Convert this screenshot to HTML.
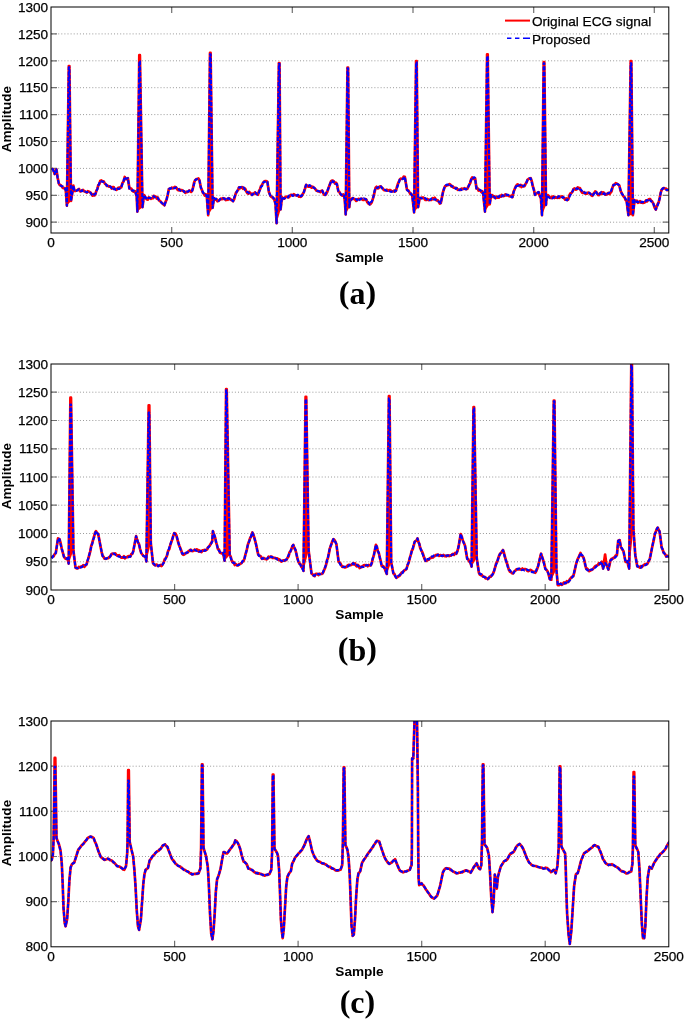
<!DOCTYPE html><html><head><meta charset="utf-8"><style>html,body{margin:0;padding:0;background:#fff;width:685px;height:1019px;overflow:hidden}svg{display:block;will-change:transform}text{font-family:"Liberation Sans",sans-serif;fill:#000}.t{font-size:13.6px;stroke:#000;stroke-width:0.25px}.b{font-size:13.6px;font-weight:bold}.L{font-family:"Liberation Serif",serif;font-size:32px;font-weight:bold}</style></head><body>
<svg width="685" height="1019" viewBox="0 0 685 1019">
<defs>
<clipPath id="ca"><rect x="51" y="7" width="617.8" height="226"/></clipPath>
<clipPath id="cb"><rect x="51" y="364" width="617.8" height="226"/></clipPath>
<clipPath id="cc"><rect x="51" y="721" width="617.8" height="225.8"/></clipPath>
</defs>
<path d="M52 222.2H667.8M52 195.3H667.8M52 168.4H667.8M52 141.5H667.8M52 114.6H667.8M52 87.7H667.8M52 60.8H667.8M52 33.9H667.8" stroke="#9a9a9a" stroke-width="1" stroke-dasharray="1 2.1" fill="none"/>
<path d="M51 222.2h6M668.8 222.2h-6M51 195.3h6M668.8 195.3h-6M51 168.4h6M668.8 168.4h-6M51 141.5h6M668.8 141.5h-6M51 114.6h6M668.8 114.6h-6M51 87.7h6M668.8 87.7h-6M51 60.8h6M668.8 60.8h-6M51 33.9h6M668.8 33.9h-6M171.7 233v-6M171.7 7v6M292.3 233v-6M292.3 7v6M413 233v-6M413 7v6M533.7 233v-6M533.7 7v6M654.3 233v-6M654.3 7v6" stroke="#707070" stroke-width="1.2" fill="none"/>
<g clip-path="url(#ca)" fill="none" stroke-linejoin="round">
<polyline points="51.8,168.8 52.9,169.3 53.8,170.9 54.7,174 56.4,169.3 57.6,177.5 58.8,183.4 59.8,185.2 60.7,185 61.7,186.3 62.7,187.8 63.6,188.2 64.6,188 65.8,190.4 66.9,205.7 68.8,66 69.4,66 71,201 73.4,185.7 74.5,191 75.7,190.8 76.8,190.4 78,189.8 79,188.9 80,191.3 81,191.3 82,190.4 83,189.9 84,191.1 85,191.5 85.9,192.1 86.9,192.6 87.8,191.2 88.8,191.5 89.7,192.1 90.7,192.6 91.6,194.2 92.6,195.6 93.6,194.2 94.5,195.4 95.5,193.9 96.4,190.6 97.4,188.9 98.3,185 99.3,184.2 100.2,181 101.4,180.3 102.6,181.6 103.7,181.4 104.9,183.6 106,184.5 106.9,186 107.9,185.8 108.8,186.6 109.8,186.3 110.7,186.9 111.7,188.6 112.7,187.2 113.7,187.1 114.6,189 115.6,189.3 116.6,189.8 117.5,188.5 118.4,187.7 119.4,188.6 120.3,187.2 121.2,187.4 122.4,183 123.5,181.7 124.7,177 125.8,179.1 127,178.7 127.9,178.2 129.4,188.5 130.4,188.3 131.3,188.7 132.3,190.7 133.3,191.6 134.2,191.1 135.2,191.4 136.7,196.5 137.4,211.6 139.3,55.2 139.9,55.2 142.5,207.2 144,195 145.4,197.2 146.9,199.4 147.9,199.6 148.8,197.3 149.8,198 150.8,198.8 151.8,198.1 152.8,198.3 153.7,195.8 154.7,196.8 155.7,196.5 156.8,198.5 157.8,197.5 158.9,200.3 160,200.9 161.1,202.1 162.2,203.3 163.3,204.3 164.4,205.3 165.5,202.1 166.6,199.4 167.7,195 168.8,189.2 169.8,188.5 170.7,188.5 171.7,187.7 172.8,188.4 173.9,187.8 175,186.9 176.1,187.4 177.2,189.2 178.3,190.3 179.4,189.2 180.5,190.7 181.5,190.1 182.4,190.5 183.4,191.3 184.4,191.4 185.3,192.9 186.3,191.8 187.3,192.1 188.3,191.6 189.2,190.5 190.2,191 191.2,191.9 192.2,190.7 193.1,187.4 194.1,182.6 195,180.4 196.2,179.2 197.3,179 198.4,178.5 199.5,180.4 200.9,187.7 201.9,189.8 202.8,192.7 203.8,193.6 204.8,195.5 205.8,194.3 206.8,196.5 208.2,215.2 210,52.9 210.6,52.9 212.6,207.9 214,198 215.1,199.7 216.2,198.9 217.3,201.3 218.4,200.9 220,199.4 221,198.7 221.9,199.2 222.9,198.2 223.9,198.9 224.8,198.6 225.8,200.1 226.8,199.5 227.8,199.8 228.8,198.2 229.9,198.8 230.9,199.7 232,200.3 233.1,201.2 234.2,199.2 235.3,195 236.2,192.3 237.2,191.1 238.1,190 239,187.4 240,188.4 241,187.3 242.1,187.2 243.1,188.9 244.1,188 245.2,188.9 246.3,191.4 247.3,193.1 248.2,193.7 249.2,191.9 250.2,193.2 251.1,193.6 252.1,195 253.1,193.5 254,193.6 255,192.4 256,193.9 257,193.9 258,194.7 259.1,191 260.1,189.2 261,186.2 262,185 262.9,183.2 263.8,181.9 265,181 266.2,181 267.4,181.9 268.9,192.1 270.4,195.8 271.3,196.7 272.2,197.1 273.1,198.4 274,198.7 275.5,203.8 276.6,223.2 278.9,63.1 279.5,63.1 280.6,209.4 282,197.2 283.1,198.8 284.2,198.7 285.2,197.2 286.1,196.8 287.1,196.6 288.1,197.5 289,197.2 290,195.8 291,194.8 292,194.9 292.9,195.3 293.9,194.2 294.9,195.1 295.9,195.3 296.9,195.5 297.9,195.5 298.9,196.7 299.8,196.2 300.8,196.8 301.8,195.8 302.9,193.7 303.9,192.1 305,188.7 306.1,184.8 307.2,185.7 308.3,186.6 309.4,186.6 310.5,186 311.6,187.7 312.7,186.7 313.8,187.6 314.9,188.5 316.5,190.7 317.5,191 318.4,191.5 319.4,191.4 320.4,192 321.3,190.8 322.3,190.7 323.3,193.3 324.2,194.8 325.2,195 326.2,194 327.1,192.2 328.1,189.2 329.1,186.5 330.1,183.8 331.1,181.2 332.1,180.6 333,180.7 334,181.6 335,183.5 335.9,182.6 336.9,184.1 338.4,191.4 339.4,191.9 340.3,194.1 341.3,195 342.3,195.7 343.2,194.4 344.2,195.8 344.9,201.6 345.7,214.5 347.5,67.5 348.1,67.5 349.3,207.2 350,200.1 351,200.2 352,198.4 353,198 354.1,199.2 355.1,199.4 356.2,200.9 357.3,200.1 358.4,198.9 359.5,199.2 360.6,199.2 361.7,198.7 362.8,199.9 363.9,199.8 365,199.1 366.1,199.4 367.3,202.2 368.5,203.7 369.7,204.5 370.7,203.8 371.7,202.4 372.7,199.4 373.7,196 374.6,192 375.6,187.7 376.6,186.8 377.6,188.4 378.7,188.1 379.7,186.5 380.7,186.3 381.7,187.6 382.6,188.1 383.6,189.9 384.7,190.3 385.8,190.3 386.9,189.7 388,190.7 389.1,190.2 390.2,190 391.3,191 392.4,191.4 393.3,191.3 394.2,190.6 395.1,191.5 396,190.7 396.9,187.2 397.9,183.9 398.8,181.9 399.7,179.7 400.7,178.6 401.6,178.8 402.6,179 403.7,176.7 404.8,176.8 407,189.9 408.2,190.2 409.4,192.1 410.4,194 411.3,193.9 412.3,195.8 414.1,212.3 416.1,61.1 416.7,61.1 418.1,207.2 419.6,198.2 420.7,198.4 421.8,197.5 422.9,197.5 424,198.2 425.1,199.8 426.2,200 427.3,198.9 428.4,200.1 429.5,199.7 430.5,200 431.6,199.8 432.7,198.2 433.7,199 434.7,197.8 435.7,199.4 436.7,200.5 437.7,200.2 438.8,201.7 439.8,203.6 440.8,203.1 443,192.1 444.1,188.5 445.1,186.3 446.2,185.7 447.3,185.3 448.4,184.9 449.5,184.1 450.5,184.9 451.5,186.5 452.6,186.1 453.6,187.7 454.6,187.7 455.6,187.9 456.6,188.1 457.7,189.8 458.7,189.5 459.7,189.9 460.6,190 461.6,188.6 462.5,188.8 463.5,188.9 464.4,188.2 465.4,188.9 466.3,189.2 467.3,188.8 468.2,186.9 469.2,184.8 470.2,183.1 471.2,179.1 472.2,177.5 473.2,178.9 474.1,178.9 475.1,178.2 476.5,188.5 477.5,188.2 478.5,190.6 479.5,189.9 480.4,190.8 481.3,192 482.2,191.2 483.1,192.8 485,211.6 487.1,54.3 487.7,54.3 489.7,204.3 491.1,195 492.2,195 493.3,197 494.4,196.4 495.5,198.2 496.6,196.6 497.7,197.7 498.8,197.7 499.9,195.8 500.8,196.6 501.7,194.9 502.6,195.9 503.5,196.1 504.4,195.8 505.4,194.3 506.3,195.4 507.3,195 508.3,195.4 509.3,196.3 510.4,196 511.4,195.7 512.4,197.2 513.5,191.9 514.6,189.2 515.7,186.5 516.8,185.1 517.7,184.3 518.7,185 519.6,186.1 520.6,184.9 521.5,187 522.5,185.6 523.4,186.3 524.5,186.1 525.5,184.1 526.5,182.6 527.5,179.8 528.5,179 529.6,178.6 530.7,178.2 531.8,181.2 532.8,186.3 533.9,189.5 535,195 535.9,193.9 536.9,193.3 537.8,192.6 538.7,192.1 539.8,196.1 540.9,198 542,215.2 543.7,62.2 544.3,62.2 546,205 546.7,195.8 547.8,195.2 548.9,196 550,197.8 551.1,198 552.2,196.8 553.3,196.4 554.4,198 555.5,197.2 556.5,197.7 557.4,197.8 558.4,196.6 559.4,197.8 560.3,196.7 561.3,196.5 562.3,196.4 563.3,197.8 564.2,198.2 565.2,199.7 566.2,198.4 567.2,200.1 568.3,199.5 569.4,195.2 570.4,193.5 571.5,192.8 572.5,191.7 573.5,189.1 574.5,188.5 575.6,189.6 576.6,189.4 577.7,187.4 578.8,188 579.9,188 581,190.7 582.1,192.6 583.2,192.8 584.2,192.2 585.1,193.6 586.1,193.6 587.1,193.7 588,192.6 589,192.8 590.1,193.7 591.2,195.1 592.3,195.8 593.3,193.9 594.2,193.2 595.2,191.4 596.2,192.1 597.1,193.2 598.1,195 599,195.1 600,193.3 600.9,193.8 601.8,192.1 602.7,193.8 603.6,192.5 604.5,193.5 605.4,194.7 606.4,194.6 607.4,193.7 608.5,192.9 609.5,194.1 610.5,192.8 611.5,191.4 612.5,187.5 613.5,184.8 614.6,184.9 615.7,183.1 616.9,183.7 618.1,184.5 619.3,185.5 620.8,191.4 621.8,193.2 622.7,195.2 623.7,196.5 624.7,197.6 625.6,200 626.6,200.9 628.4,215.2 630.7,61.1 631.3,61.1 632.9,215.2 634.6,200.1 635.7,201.2 636.8,200.6 637.9,202.8 639,202.3 640,201.1 641,202.6 642,202.7 642.9,202.9 643.9,202.7 644.9,202.3 646,200.3 647,201.4 648.1,199.9 649.2,199.1 650.2,199.2 651.2,200.7 652.2,201.6 653.4,203.7 654.6,207.6 655.8,209.6 656.8,206.1 657.7,204 658.7,202.3 659.7,197.8 660.6,193.2 661.6,189.9 662.7,188.6 663.8,188 664.9,188.5 666,188.7 667.1,190.1 668.2,189.9 670,190" stroke="#ff0000" stroke-width="2.7"/>
<polygon points="66.9,205.7 68.8,66 69.4,66 71,201" fill="#ff0000" stroke="none"/>
<polygon points="137.4,211.6 139.3,55.2 139.9,55.2 142.5,207.2" fill="#ff0000" stroke="none"/>
<polygon points="208.2,215.2 210,52.9 210.6,52.9 212.6,207.9" fill="#ff0000" stroke="none"/>
<polygon points="276.6,223.2 278.9,63.1 279.5,63.1 280.6,209.4" fill="#ff0000" stroke="none"/>
<polygon points="345.7,214.5 347.5,67.5 348.1,67.5 349.3,207.2" fill="#ff0000" stroke="none"/>
<polygon points="414.1,212.3 416.1,61.1 416.7,61.1 418.1,207.2" fill="#ff0000" stroke="none"/>
<polygon points="485,211.6 487.1,54.3 487.7,54.3 489.7,204.3" fill="#ff0000" stroke="none"/>
<polygon points="542,215.2 543.7,62.2 544.3,62.2 546,205" fill="#ff0000" stroke="none"/>
<polygon points="628.4,215.2 630.7,61.1 631.3,61.1 632.9,215.2" fill="#ff0000" stroke="none"/>
<polyline points="51.8,168.8 52.9,169.3 53.8,172.4 54.7,174 56.4,169.3 57.6,177.5 58.8,183.4 59.8,185 60.7,185.7 61.7,186.3 62.7,186.4 63.6,187.2 64.6,188 65.8,190.4 66.9,205.7 68.8,67.2 69.4,67.2 71,201 73.4,185.7 74.5,191 75.7,190.9 76.8,190.7 78,189.8 79,189.3 80,189.8 81,191.2 82,190.2 83,191.3 84,191 85,191.5 85.9,191.9 86.9,192.3 87.8,192 88.8,191.8 89.7,192.1 90.7,193 91.6,194.6 92.6,195.6 93.6,195.2 94.5,194.3 95.5,193.9 96.4,191.3 97.4,188.8 98.3,185.8 99.3,183.1 100.2,181 101.4,181.4 102.6,181.6 103.7,181.9 104.9,183.7 106,184.5 106.9,185.5 107.9,186 108.8,185.5 109.8,186.3 110.7,186.9 111.7,188.1 112.7,187.6 113.7,189.1 114.6,188.4 115.6,189.9 116.6,189.8 117.5,188.6 118.4,189.1 119.4,188.8 120.3,188 121.2,187.4 122.4,184.1 123.5,181.1 124.7,177 125.8,178.6 127,178.7 127.9,178.2 129.4,188.5 130.4,188.7 131.3,190 132.3,190.7 133.3,190.2 134.2,191 135.2,191.4 136.7,196.5 137.4,211.6 139.3,61.2 139.9,61.2 142.5,207.2 144,195 145.4,197.2 146.9,199.4 147.9,198.4 148.8,197.9 149.8,198 150.8,197.9 151.8,196.8 152.8,196.7 153.7,196.2 154.7,197.3 155.7,196.5 156.8,197.2 157.8,198 158.9,200 160,200.9 161.1,202.3 162.2,203.3 163.3,204.3 164.4,205.3 165.5,202.4 166.6,199.4 167.7,194.7 168.8,189.2 169.8,188.4 170.7,188.7 171.7,187.7 172.8,187.9 173.9,188.1 175,188.1 176.1,187.4 177.2,188.8 178.3,189.1 179.4,189.9 180.5,190.7 181.5,191.3 182.4,191.2 183.4,190.5 184.4,192.1 185.3,191.1 186.3,191.8 187.3,191.6 188.3,191.4 189.2,190.6 190.2,191.2 191.2,191 192.2,190.7 193.1,187.8 194.1,184 195,180.4 196.2,179.4 197.3,179 198.4,179.8 199.5,180.4 200.9,187.7 201.9,190.4 202.8,191.9 203.8,193.6 204.8,195.1 205.8,194.8 206.8,196.5 208.2,215.2 210,54.2 210.6,54.2 212.6,207.9 214,198 215.1,199 216.2,199 217.3,199.6 218.4,200.9 220,199.4 221,198.7 221.9,198.1 222.9,198.2 223.9,198.2 224.8,199 225.8,200.1 226.8,199 227.8,198.4 228.8,198.2 229.9,199.4 230.9,199 232,200 233.1,201.2 234.2,197.4 235.3,195 236.2,193.1 237.2,190.8 238.1,189.3 239,187.4 240,187.1 241,187.2 242.1,187.7 243.1,187.2 244.1,188 245.2,190.3 246.3,191.4 247.3,192.1 248.2,192.4 249.2,193.3 250.2,194.5 251.1,194.4 252.1,195 253.1,194 254,192.8 255,192.4 256,193 257,194.4 258,194.7 259.1,192.1 260.1,189.2 261,187 262,186.2 262.9,183.1 263.8,181.9 265,181.7 266.2,182.3 267.4,181.9 268.9,192.1 270.4,195.8 271.3,197.2 272.2,197.2 273.1,197.2 274,198.7 275.5,203.8 276.6,223.2 278.9,63.7 279.5,63.7 280.6,209.4 282,197.2 283.1,198 284.2,198.7 285.2,198.1 286.1,197 287.1,197 288.1,197.4 289,195.5 290,195.8 291,195.2 292,195.1 292.9,196 293.9,195.2 294.9,195.7 295.9,195.3 296.9,195.7 297.9,194.7 298.9,195.5 299.8,195 300.8,196.2 301.8,195.8 302.9,193.9 303.9,192.1 305,188.2 306.1,184.8 307.2,185.6 308.3,185.9 309.4,185 310.5,186 311.6,186 312.7,187 313.8,187.6 314.9,188.5 316.5,190.7 317.5,190.8 318.4,191.1 319.4,191.4 320.4,191.9 321.3,191.2 322.3,190.7 323.3,192.9 324.2,193.8 325.2,195 326.2,192.6 327.1,191.2 328.1,189.2 329.1,186 330.1,184 331.1,181.2 332.1,180.8 333,182.2 334,181.6 335,182.1 335.9,183.9 336.9,184.1 338.4,191.4 339.4,192.2 340.3,193.3 341.3,195 342.3,194.9 343.2,196.1 344.2,195.8 344.9,201.6 345.7,214.5 347.5,68.2 348.1,68.2 349.3,207.2 350,200.1 351,199.9 352,199.1 353,198 354.1,198.6 355.1,198.5 356.2,199.2 357.3,200.1 358.4,199 359.5,200.1 360.6,198.5 361.7,198.7 362.8,199.2 363.9,198.3 365,198.9 366.1,199.4 367.3,201.3 368.5,202.3 369.7,204.5 370.7,202.1 371.7,201.7 372.7,199.4 373.7,195.2 374.6,190.8 375.6,187.7 376.6,187.7 377.6,187.9 378.7,186.9 379.7,185.8 380.7,186.3 381.7,187.4 382.6,188.9 383.6,189.9 384.7,189.7 385.8,190.2 386.9,190.9 388,190.7 389.1,191.1 390.2,191.6 391.3,191.9 392.4,191.4 393.3,191.3 394.2,191.8 395.1,190.3 396,190.7 396.9,188 397.9,185.5 398.8,183.1 399.7,179.7 400.7,179.4 401.6,179.1 402.6,179 403.7,178.5 404.8,176.8 407,189.9 408.2,191 409.4,192.1 410.4,192.6 411.3,194.5 412.3,195.8 414.1,212.3 416.1,62.2 416.7,62.2 418.1,207.2 419.6,198.2 420.7,197.8 421.8,198.4 422.9,198.7 424,198.2 425.1,198 426.2,198.9 427.3,200.3 428.4,200.1 429.5,200.1 430.5,199.6 431.6,198.5 432.7,198.2 433.7,199.3 434.7,199.6 435.7,199.4 436.7,200.7 437.7,200.9 438.8,201.8 439.8,201.8 440.8,203.1 443,192.1 444.1,188.5 445.1,186.3 446.2,185 447.3,184.5 448.4,184.7 449.5,184.1 450.5,185.5 451.5,185.7 452.6,186.7 453.6,187.4 454.6,187.7 455.6,188.9 456.6,188.2 457.7,189 458.7,190.1 459.7,189.9 460.6,189.5 461.6,190 462.5,189.5 463.5,188.9 464.4,188.9 465.4,189.1 466.3,189.2 467.3,187 468.2,186.9 469.2,184.8 470.2,182.1 471.2,179.5 472.2,177.5 473.2,178.2 474.1,177.2 475.1,178.2 476.5,188.5 477.5,189.4 478.5,189.4 479.5,189.9 480.4,190 481.3,191.2 482.2,192.9 483.1,192.8 485,211.6 487.1,56.2 487.7,56.2 489.7,204.3 491.1,195 492.2,195.1 493.3,196.3 494.4,196.9 495.5,198.2 496.6,197.7 497.7,196.5 498.8,197 499.9,195.8 500.8,195.6 501.7,196.5 502.6,195.2 503.5,195.4 504.4,195.8 505.4,194.8 506.3,194.5 507.3,195 508.3,194.9 509.3,196 510.4,196.4 511.4,197.1 512.4,197.2 513.5,192.8 514.6,189.2 515.7,187.3 516.8,185.1 517.7,186 518.7,185.2 519.6,185.2 520.6,185.3 521.5,186.7 522.5,186.3 523.4,186.3 524.5,185.2 525.5,184.1 526.5,182.4 527.5,180 528.5,179 529.6,178.2 530.7,178.2 531.8,182.6 532.8,186.3 533.9,190.3 535,195 535.9,194.3 536.9,194.2 537.8,192.3 538.7,192.1 539.8,195 540.9,198 542,215.2 543.7,63.2 544.3,63.2 546,205 546.7,195.8 547.8,196.8 548.9,197.3 550,198 551.1,198 552.2,198.5 553.3,197.7 554.4,197 555.5,197.2 556.5,197.1 557.4,197.6 558.4,196.4 559.4,196.4 560.3,196.1 561.3,196.5 562.3,197.7 563.3,197.1 564.2,197.7 565.2,199.1 566.2,199.9 567.2,200.1 568.3,198.2 569.4,196.8 570.4,195 571.5,192.8 572.5,191.2 573.5,189.3 574.5,188.5 575.6,188.7 576.6,188.4 577.7,188.9 578.8,188 579.9,189.5 581,189.7 582.1,191.1 583.2,192.8 584.2,192.5 585.1,193.2 586.1,192.5 587.1,192.4 588,192.3 589,192.8 590.1,193.4 591.2,194.8 592.3,195.8 593.3,194.7 594.2,193.4 595.2,191.4 596.2,192 597.1,193.9 598.1,195 599,195 600,193.4 600.9,192.2 601.8,192.1 602.7,193 603.6,193.9 604.5,193.3 605.4,194.7 606.4,193.7 607.4,193.6 608.5,193.3 609.5,192.6 610.5,192.8 611.5,189.5 612.5,187.3 613.5,184.8 614.6,184.7 615.7,183.1 616.9,184 618.1,184.3 619.3,185.5 620.8,191.4 621.8,193.8 622.7,194.5 623.7,196.5 624.7,197.4 625.6,198.8 626.6,200.9 628.4,215.2 630.7,63.2 631.3,63.2 632.9,215.2 634.6,200.1 635.7,199.9 636.8,201.9 637.9,201.8 639,202.3 640,203.1 641,202.4 642,201.6 642.9,202.1 643.9,202.1 644.9,202.3 646,201 647,200 648.1,200.2 649.2,199.1 650.2,200.5 651.2,201.5 652.2,201.6 653.4,203.8 654.6,207.1 655.8,209.6 656.8,206.8 657.7,205.3 658.7,202.3 659.7,198.8 660.6,193.3 661.6,189.9 662.7,188.5 663.8,188 664.9,189.1 666,189.7 667.1,190 668.2,189.9 670,190" stroke="#0000ff" stroke-width="2.1" stroke-dasharray="4 1.5"/>
</g>
<rect x="51" y="7" width="617.8" height="226" fill="none" stroke="#000" stroke-width="1"/>
<text class="t" x="48.2" y="226.9" text-anchor="end">900</text>
<text class="t" x="48.2" y="200" text-anchor="end">950</text>
<text class="t" x="48.2" y="173.1" text-anchor="end">1000</text>
<text class="t" x="48.2" y="146.2" text-anchor="end">1050</text>
<text class="t" x="48.2" y="119.3" text-anchor="end">1100</text>
<text class="t" x="48.2" y="92.4" text-anchor="end">1150</text>
<text class="t" x="48.2" y="65.5" text-anchor="end">1200</text>
<text class="t" x="48.2" y="38.6" text-anchor="end">1250</text>
<text class="t" x="48.2" y="11.7" text-anchor="end">1300</text>
<text class="t" x="51" y="246.6" text-anchor="middle">0</text>
<text class="t" x="171.7" y="246.6" text-anchor="middle">500</text>
<text class="t" x="292.3" y="246.6" text-anchor="middle">1000</text>
<text class="t" x="413" y="246.6" text-anchor="middle">1500</text>
<text class="t" x="533.7" y="246.6" text-anchor="middle">2000</text>
<text class="t" x="654.3" y="246.6" text-anchor="middle">2500</text>
<text class="b" x="359.5" y="261.6" text-anchor="middle">Sample</text>
<text class="b" transform="translate(11.4 119.1) rotate(-90)" text-anchor="middle">Amplitude</text>
<text class="L" x="357.4" y="304" text-anchor="middle"><tspan dy="-1.3">(</tspan><tspan dy="1.3">a</tspan><tspan dy="-1.3">)</tspan></text>
<path d="M52 561.8H667.8M52 533.5H667.8M52 505.2H667.8M52 477H667.8M52 448.8H667.8M52 420.5H667.8M52 392.2H667.8" stroke="#9a9a9a" stroke-width="1" stroke-dasharray="1 2.1" fill="none"/>
<path d="M51 561.8h6M668.8 561.8h-6M51 533.5h6M668.8 533.5h-6M51 505.2h6M668.8 505.2h-6M51 477h6M668.8 477h-6M51 448.8h6M668.8 448.8h-6M51 420.5h6M668.8 420.5h-6M51 392.2h6M668.8 392.2h-6M174.6 590v-6M174.6 364v6M298.1 590v-6M298.1 364v6M421.7 590v-6M421.7 364v6M545.2 590v-6M545.2 364v6" stroke="#707070" stroke-width="1.2" fill="none"/>
<g clip-path="url(#cb)" fill="none" stroke-linejoin="round">
<polyline points="51.5,558.1 52.6,556.5 53.6,556.3 54.7,554 55.8,553 58,538.4 59.5,539.1 60.6,542.9 61.7,548.6 62.8,552.5 63.9,556.6 65,558.2 66.1,558.8 67.5,558.1 68.7,563.6 70.4,397.7 71,397.7 73.4,550.5 75.5,567.6 76.6,568.3 77.7,568.3 78.8,567 79.9,567.5 81,566.5 82.1,566.8 83.2,565.2 84.3,566.8 85.4,565.6 86.5,564.6 87.5,560.9 88.4,558.4 89.4,554.4 90.3,551.4 91.2,546 92.2,543.2 93.1,539.8 94.1,536.5 95,533 96,531.1 97.1,533.1 98.2,534 100.4,545.7 101.5,551.6 102.6,555.9 103.6,556.8 104.5,558.6 105.5,558.8 106.5,558.7 107.4,558.1 108.4,558.1 109.4,557 110.3,556.3 111.3,554.4 112.3,553.7 113.2,554 114.2,553.7 115.2,553.4 116.2,554.8 117.2,555.6 118.1,555.4 119.1,555.2 120.1,556.6 121.1,557.6 122,557.4 123,557.7 124,556.3 124.9,558.3 125.9,557.3 127,557.1 128.1,556.2 129.2,556.3 130.3,556.6 131.3,554 132.2,553.9 133.2,551.5 136.1,536.2 137.1,539.8 138,542.4 139,544.2 140.1,549.1 141.2,553 142.3,554.5 143.4,555.9 144.5,556.3 145.6,557.3 146.4,561.4 148.7,405.3 149.3,405.3 150.8,543.2 153,563.2 154.1,564.7 155.2,565.4 156.2,564.6 157.1,564.9 158.1,566.1 159.2,565.8 160.3,565 161.4,566.1 162.5,564.6 163.6,562.8 164.7,559.2 165.8,558.3 166.9,555.9 168.1,551 169.3,549.1 170.5,544.2 171.4,541.9 172.3,539.3 173.3,535.6 174.2,533.2 175.3,533.3 176.4,535.4 177.4,539.3 178.3,542.7 179.3,545.7 180.3,548 181.2,550.4 182.2,553.7 183.3,554.8 184.4,554.4 185.5,553.1 186.6,553 187.7,552.6 188.8,550.8 189.8,551 190.7,549.6 191.7,551 192.7,551.1 193.6,550.7 194.6,549.7 195.6,550.4 196.6,549.4 197.6,549.7 198.5,551.5 199.5,550.4 200.5,551.5 201.5,552.1 202.4,550.4 203.4,550.7 204.4,549.9 205.3,550.6 206.3,550 207.3,549.2 208.2,547.1 209.2,546.4 210.2,544.7 211.2,543 212.2,541.3 212.9,531.1 214,534.7 215.1,537.6 216.1,542.4 217,545.2 218,549.3 219,549.5 219.9,552.7 220.9,553 222,553.5 223.1,553 224.6,560.7 226.1,389.2 226.7,389.2 229.7,554.9 230.7,556.7 231.6,560.3 232.6,562.4 233.7,562.2 234.8,565 235.9,564.1 237,565.4 238.1,565.4 239.2,564 240.3,564 241.4,563.2 242.4,561.8 243.4,561.3 244.4,558.8 245.6,553.9 246.8,549.8 248,544.2 249.1,541.3 250.2,538 251.3,536.1 252.4,532.5 253.4,534.6 254.3,537.7 255.3,541.3 256.3,545.3 257.2,550.1 258.2,554.4 259.1,555.7 260,555.9 261,556.6 261.9,558.8 262.8,558.7 263.7,557.9 264.6,558.9 265.5,558.8 266.5,559.4 267.6,558.6 268.6,556.6 269.7,557.3 270.7,556.6 271.7,556.6 272.6,558 273.6,557.9 274.6,557.8 275.5,558 276.5,558.8 277.5,558.4 278.4,559.8 279.4,559.3 280.4,560.6 281.3,561.6 282.3,561 283.4,560.3 284.5,560.6 285.6,560.3 286.7,559.5 287.6,557.6 288.5,556.6 289.5,552.4 290.4,551.5 291.4,549.2 292.3,546.3 293.3,544.9 294.4,548.2 295.5,550 296.5,554.3 297.4,558.4 298.4,561.7 299.4,563.5 300.3,564 301.3,566.8 302.4,567.9 303.5,570.9 305.6,396.8 306.2,396.8 308.6,550.5 311.5,573.4 312.6,574.3 313.7,575.6 314.6,576.2 315.5,574 316.5,573.8 317.4,574.1 318.4,575 319.4,573.7 320.5,574 321.5,574 322.5,573.4 323.4,572.1 324.3,569.6 325.2,567.7 326.1,564.6 327,560.3 328,557.7 328.9,553.4 329.8,548.6 331,545.2 332.2,541.6 333.4,539.1 334.4,540 335.4,541.7 336.4,544.2 338.6,561.7 339.5,562.6 340.5,563.5 341.4,565.4 342.3,566.8 343.4,566.6 344.5,567.3 345.6,567.3 346.7,566.8 347.6,565.4 348.6,564.8 349.5,565.5 350.4,565.1 351.3,565 352.3,564 353.2,563.2 354.1,564.5 355,563.4 355.9,565.5 356.9,566.4 357.8,564.9 358.7,565.9 359.6,568 360.5,567.6 361.5,566.5 362.6,566.9 363.6,565.3 364.7,565.1 365.7,565.4 366.7,565 367.7,566.2 368.8,564.8 369.8,565.4 370.8,565.4 371.8,563.2 372.7,558.9 373.7,555.9 375.9,544.9 376.9,546.7 377.8,551.3 378.8,553 379.8,557.3 380.7,560.8 381.7,566.1 382.7,565.8 383.6,566.5 384.6,568.3 385.7,571.2 386.8,573.9 388.9,396.2 389.5,396.2 391.2,562.2 393.4,573.4 394.4,574 395.3,576.2 396.3,577.8 397.4,577 398.5,576.3 399.6,575.8 400.7,574.1 401.7,572.5 402.6,572.2 403.6,571.3 404.6,570.1 405.5,569.8 406.5,569 407.6,565.1 408.7,562.5 409.8,558.1 410.9,554.4 411.8,550.7 412.8,549 413.7,545.7 414.6,542 415.6,540.9 416.5,540.5 417.5,538.4 418.4,541.9 419.3,543.8 420.2,547.9 421.1,550 422.2,551.9 423.3,554.8 424.4,558.5 425.5,561 426.6,560.8 427.7,559.9 428.8,559.6 429.9,558.1 430.9,558 431.9,557 432.9,557.6 433.8,556.6 434.8,556 435.8,555.1 436.9,554.9 438,554.5 439.1,555.8 440.2,555.1 441.3,555.6 442.4,556.1 443.5,554.9 444.6,556.2 445.5,556.2 446.4,556.3 447.3,555.3 448.2,555.5 449.2,556.1 450.1,555.3 451,555.6 451.9,554.7 453,553.9 454.1,554.9 455.2,552.9 456.3,553.7 457.4,551.1 458.5,547.1 460.7,534 461.8,536.7 462.8,540.5 463.9,542.8 465,545.7 467.2,558.8 468.2,559.1 469.1,561.4 470.1,561.7 471.6,566.6 473.5,407.2 474.1,407.2 476.7,557.8 478.9,572.7 479.8,574.6 480.8,575.2 481.7,574.6 482.6,576.3 483.6,576.7 484.6,576.9 485.7,578.3 486.7,578.1 487.7,579.2 488.7,578.5 489.7,576.5 490.8,576.6 491.8,575.3 492.8,574.1 493.9,571.6 495,567.9 496.1,563.7 497.2,561.7 498.2,558.5 499.1,555.8 500.1,553.7 501.1,553 502,551.4 503,550 504,553 504.9,556.6 505.9,560.3 506.9,563.2 507.8,565.8 508.8,569.7 509.9,571.7 511,572.1 512.1,573.2 513.2,573.4 514.3,571.4 515.4,570.7 516.5,569.3 517.6,569 518.6,569.4 519.5,569.1 520.5,569.4 521.5,569.6 522.4,568.5 523.4,569.7 524.4,569 525.4,569 526.4,569.7 527.4,570.9 528.4,571.1 529.4,570.5 530.4,569.8 531.3,570.4 532.3,571.2 533.3,572 534.2,571.7 535.2,572.7 536.2,571.2 537.1,569 538.1,566.1 539.1,561.7 540.1,557.7 541.1,553.7 542.2,557.3 543.2,560.3 544.3,563.9 545.4,569 546.4,569.7 547.4,571 548.4,573.4 549.8,579.2 551.3,579.7 553.8,400.6 554.4,400.6 556.4,569.5 557.8,585.1 558.8,585.2 559.9,584.8 560.9,583.5 562,584.8 563,583.6 564,582.4 564.9,583.4 565.9,583.1 566.9,581.2 567.8,582.1 568.8,581.4 569.9,579.1 571,577.8 572.1,576.8 573.2,576.3 574.4,572.2 575.6,566.1 576.8,561.7 577.7,559.2 578.6,557.3 579.6,555.2 580.5,553 581.5,555.1 582.4,556.2 583.4,557.3 584.4,560.4 585.3,565.5 586.3,569 587.3,568.7 588.2,569.9 589.2,571.2 590.3,570.5 591.4,570 592.5,569.3 593.6,568.3 594.7,566.8 595.8,565.8 596.8,565.5 597.9,565 598.9,563.2 599.8,564.1 600.8,563.2 601.8,561.8 603.1,568.6 605.1,554.5 606.4,564.7 607.4,566.5 608.4,569.6 609.4,565.5 610.4,560.4 611.4,558.9 612.3,559.1 613.3,557.9 614.3,557.8 615.6,555.6 616.9,555.2 618.2,540.7 619.6,540.1 620.9,547.3 622.2,549.2 623.5,551.2 625.5,561.8 626.5,561.4 627.4,561.1 628.3,565.7 629.2,568.6 631.3,363.2 631.9,363.2 633.4,529.2 635.3,555.2 637.3,566.4 638.2,566.3 639.1,567.1 640,567.7 641,566.2 642,567 642.9,565.8 643.9,565 645.2,564.2 646.5,564.4 647.6,563.4 648.7,561.1 649.8,559.1 652.4,546 653.7,540.4 655,533.5 655.9,531.6 656.8,528.9 657.7,527.6 658.7,530.1 659.6,531.5 661.6,547.3 662.6,549.3 663.6,552.6 664.9,553.7 666.2,556.5 667.2,555.7 668.2,556.5 670,557" stroke="#ff0000" stroke-width="2.7"/>
<polygon points="68.7,563.6 70.4,397.7 71,397.7 73.4,550.5" fill="#ff0000" stroke="none"/>
<polygon points="146.4,561.4 148.7,405.3 149.3,405.3 150.8,543.2" fill="#ff0000" stroke="none"/>
<polygon points="224.6,560.7 226.1,389.2 226.7,389.2 229.7,554.9" fill="#ff0000" stroke="none"/>
<polygon points="303.5,570.9 305.6,396.8 306.2,396.8 308.6,550.5" fill="#ff0000" stroke="none"/>
<polygon points="386.8,573.9 388.9,396.2 389.5,396.2 391.2,562.2" fill="#ff0000" stroke="none"/>
<polygon points="471.6,566.6 473.5,407.2 474.1,407.2 476.7,557.8" fill="#ff0000" stroke="none"/>
<polygon points="551.3,579.7 553.8,400.6 554.4,400.6 556.4,569.5" fill="#ff0000" stroke="none"/>
<polygon points="629.2,568.6 631.3,363.2 631.9,363.2 633.4,529.2" fill="#ff0000" stroke="none"/>
<polyline points="51.5,558.1 52.6,557.4 53.6,555.3 54.7,554.7 55.8,553 58,538.4 59.5,539.1 60.6,544.5 61.7,548.6 62.8,552.3 63.9,556.6 65,558.1 66.1,558.8 67.5,558.1 68.7,563.6 70.4,404.5 71,404.5 73.4,550.5 75.5,567.6 76.6,567.7 77.7,568.3 78.8,567.5 79.9,567.3 81,567.5 82.1,566.8 83.2,565.8 84.3,565.9 85.4,564.9 86.5,564.6 87.5,560.7 88.4,557.7 89.4,554.4 90.3,550.6 91.2,547 92.2,544 93.1,539.8 94.1,537.5 95,533.6 96,531.1 97.1,533.2 98.2,534 100.4,545.7 101.5,551 102.6,555.9 103.6,557.5 104.5,558.3 105.5,558.8 106.5,558.6 107.4,558 108.4,558.1 109.4,557.5 110.3,556.3 111.3,554.4 112.3,554.3 113.2,553.4 114.2,553.7 115.2,554.6 116.2,555 117.2,555.7 118.1,556.3 119.1,556.8 120.1,556.6 121.1,557 122,556.7 123,557 124,557.1 124.9,557.5 125.9,557.3 127,557.3 128.1,557.4 129.2,556.8 130.3,556.6 131.3,555 132.2,553.8 133.2,551.5 136.1,536.2 137.1,539.3 138,542.1 139,544.2 140.1,548.9 141.2,553 142.3,553.9 143.4,555.9 144.5,556.5 145.6,557.3 146.4,561.4 148.7,412.5 149.3,412.5 150.8,543.2 153,563.2 154.1,564 155.2,565.4 156.2,565.3 157.1,565.3 158.1,566.1 159.2,565.2 160.3,565.3 161.4,565.4 162.5,564.6 163.6,562.9 164.7,560.9 165.8,558.2 166.9,555.9 168.1,551.3 169.3,547.7 170.5,544.2 171.4,540.8 172.3,539.2 173.3,535.7 174.2,533.2 175.3,534.6 176.4,535.4 177.4,538.8 178.3,542.4 179.3,545.7 180.3,548.9 181.2,551.3 182.2,553.7 183.3,553.5 184.4,554.4 185.5,553.7 186.6,552.4 187.7,552.4 188.8,550.8 189.8,550.3 190.7,550.1 191.7,550.8 192.7,549.9 193.6,549.3 194.6,549.7 195.6,550.4 196.6,550.9 197.6,550.6 198.5,550.4 199.5,551.7 200.5,551.5 201.5,551 202.4,550.6 203.4,550.1 204.4,551 205.3,549.9 206.3,550 207.3,548.3 208.2,547.4 209.2,546.4 210.2,545 211.2,543.7 212.2,541.3 212.9,531.1 214,533.9 215.1,537.6 216.1,541.7 217,545.1 218,549.3 219,551 219.9,551.7 220.9,553 222,553.3 223.1,553 224.6,560.7 226.1,390.2 226.7,390.2 229.7,554.9 230.7,557.9 231.6,560 232.6,562.4 233.7,563.1 234.8,563.2 235.9,564.2 237,565.4 238.1,565.1 239.2,564.7 240.3,563.9 241.4,563.2 242.4,561.1 243.4,560.6 244.4,558.8 245.6,554.4 246.8,549.6 248,544.2 249.1,541.6 250.2,538.6 251.3,535.2 252.4,532.5 253.4,535.2 254.3,537.9 255.3,541.3 256.3,545.9 257.2,549.8 258.2,554.4 259.1,555.9 260,556.2 261,557.4 261.9,558.8 262.8,558.2 263.7,558.5 264.6,559.2 265.5,558.8 266.5,558.8 267.6,558.5 268.6,556.8 269.7,557.3 270.7,556.6 271.7,557.1 272.6,557.1 273.6,558.3 274.6,558.3 275.5,558.2 276.5,558.8 277.5,559.6 278.4,559.5 279.4,559.9 280.4,560.2 281.3,560.6 282.3,561 283.4,560 284.5,560.7 285.6,559.6 286.7,559.5 287.6,557.4 288.5,555 289.5,553.6 290.4,551.5 291.4,548.7 292.3,546.4 293.3,544.9 294.4,547 295.5,550 296.5,554.4 297.4,558.1 298.4,561.7 299.4,563.7 300.3,564.5 301.3,566.8 302.4,568.8 303.5,570.9 305.6,399.2 306.2,399.2 308.6,550.5 311.5,573.4 312.6,574.8 313.7,575.6 314.6,575.6 315.5,574.8 316.5,573.9 317.4,574.1 318.4,573.8 319.4,574.4 320.5,574.2 321.5,573.7 322.5,573.4 323.4,571 324.3,569.1 325.2,566.9 326.1,564.6 327,560.5 328,557.1 328.9,552.7 329.8,548.6 331,544.9 332.2,542.6 333.4,539.1 334.4,541.1 335.4,541.9 336.4,544.2 338.6,561.7 339.5,563 340.5,564.9 341.4,565.7 342.3,566.8 343.4,567 344.5,566.8 345.6,566.7 346.7,566.8 347.6,567 348.6,565.5 349.5,565.2 350.4,564.2 351.3,564.2 352.3,563.9 353.2,563.2 354.1,564 355,565 355.9,564.5 356.9,565 357.8,565.8 358.7,566.3 359.6,567.6 360.5,567.6 361.5,566.8 362.6,566.7 363.6,567 364.7,565.7 365.7,565.4 366.7,565.3 367.7,565.3 368.8,565.2 369.8,565.1 370.8,565.4 371.8,562.7 372.7,558.4 373.7,555.9 375.9,544.9 376.9,547 377.8,550.7 378.8,553 379.8,557.7 380.7,561.6 381.7,566.1 382.7,566.8 383.6,567.5 384.6,568.3 385.7,570.8 386.8,573.9 388.9,398.2 389.5,398.2 391.2,562.2 393.4,573.4 394.4,574.8 395.3,576.1 396.3,577.8 397.4,577 398.5,575.7 399.6,575.1 400.7,574.1 401.7,572.6 402.6,573.1 403.6,570.9 404.6,570.7 405.5,569.7 406.5,569 407.6,564.8 408.7,562.4 409.8,558 410.9,554.4 411.8,550.9 412.8,548 413.7,544.7 414.6,542 415.6,540.9 416.5,540.3 417.5,538.4 418.4,541.9 419.3,543.8 420.2,547.4 421.1,550 422.2,552.8 423.3,555.9 424.4,557.8 425.5,561 426.6,559.6 427.7,559 428.8,559.4 429.9,558.1 430.9,557 431.9,556.5 432.9,556.5 433.8,555.5 434.8,555.1 435.8,555.1 436.9,555.7 438,554.7 439.1,555.5 440.2,555.1 441.3,555.9 442.4,555.6 443.5,555.8 444.6,556.2 445.5,555.6 446.4,555.6 447.3,555.7 448.2,555.5 449.2,555.3 450.1,554.9 451,555.4 451.9,554.7 453,554.4 454.1,554 455.2,553.9 456.3,553.7 457.4,550.9 458.5,547.1 460.7,534 461.8,537.4 462.8,540.5 463.9,543.4 465,545.7 467.2,558.8 468.2,560.2 469.1,560.5 470.1,561.7 471.6,566.6 473.5,408.2 474.1,408.2 476.7,557.8 478.9,572.7 479.8,573.9 480.8,573.9 481.7,575.4 482.6,576.3 483.6,576.8 484.6,577.3 485.7,577.6 486.7,579 487.7,579.2 488.7,578 489.7,577 490.8,575.6 491.8,575.6 492.8,574.1 493.9,571.5 495,567.5 496.1,564.6 497.2,561.7 498.2,558.7 499.1,555.9 500.1,553.7 501.1,552.9 502,551.4 503,550 504,554 504.9,557.1 505.9,560.3 506.9,563.2 507.8,567 508.8,569.7 509.9,570.1 511,571.7 512.1,572.5 513.2,573.4 514.3,571.7 515.4,570.9 516.5,570.1 517.6,569 518.6,568.6 519.5,568.6 520.5,569.5 521.5,570.1 522.4,569.7 523.4,569.7 524.4,570.5 525.4,569.9 526.4,569.5 527.4,569.8 528.4,570.3 529.4,570.5 530.4,571.4 531.3,571.7 532.3,572.3 533.3,572.1 534.2,572.7 535.2,572.7 536.2,570.6 537.1,567.8 538.1,566.1 539.1,562 540.1,557.5 541.1,553.7 542.2,557.4 543.2,560.3 544.3,565.1 545.4,569 546.4,570.1 547.4,571.4 548.4,573.4 549.8,579.2 551.3,579.7 553.8,401.2 554.4,401.2 556.4,569.5 557.8,585.1 558.8,584.5 559.9,583.8 560.9,583.8 562,584.5 563,583.6 564,583.8 564.9,582.8 565.9,583 566.9,581.7 567.8,582.5 568.8,581.4 569.9,580.2 571,579 572.1,577.3 573.2,576.3 574.4,570.7 575.6,566.6 576.8,561.7 577.7,559.7 578.6,557.6 579.6,555.6 580.5,553 581.5,555 582.4,555.2 583.4,557.3 584.4,561.5 585.3,564.5 586.3,569 587.3,570.2 588.2,570.5 589.2,571.2 590.3,569.8 591.4,569.6 592.5,569.5 593.6,568.3 594.7,568 595.8,567.2 596.8,565.8 597.9,565 598.9,564.5 599.8,563.7 600.8,562.6 601.8,561.8 603.1,568.6 605.1,563 606.4,564.7 607.4,567.5 608.4,569.6 609.4,564.5 610.4,560.4 611.4,559.4 612.3,559.3 613.3,558.8 614.3,557.8 615.6,557.2 616.9,555.2 618.2,540.7 619.6,540.1 620.9,547.3 622.2,548.6 623.5,551.2 625.5,561.8 626.5,562.1 627.4,561.1 628.3,564.6 629.2,568.6 631.3,365.2 631.9,365.2 633.4,529.2 635.3,555.2 637.3,566.4 638.2,566.6 639.1,567.5 640,567.7 641,567.7 642,565.9 642.9,565.5 643.9,565 645.2,565.3 646.5,564.4 647.6,563.1 648.7,560.7 649.8,559.1 652.4,546 653.7,539.4 655,533.5 655.9,532 656.8,529.1 657.7,527.6 658.7,529.4 659.6,531.5 661.6,547.3 662.6,549.3 663.6,552.6 664.9,554.2 666.2,556.5 667.2,556.4 668.2,556.5 670,557" stroke="#0000ff" stroke-width="2.1" stroke-dasharray="4 1.5"/>
</g>
<rect x="51" y="364" width="617.8" height="226" fill="none" stroke="#000" stroke-width="1"/>
<text class="t" x="48.2" y="594.6" text-anchor="end">900</text>
<text class="t" x="48.2" y="566.4" text-anchor="end">950</text>
<text class="t" x="48.2" y="538.1" text-anchor="end">1000</text>
<text class="t" x="48.2" y="509.9" text-anchor="end">1050</text>
<text class="t" x="48.2" y="481.6" text-anchor="end">1100</text>
<text class="t" x="48.2" y="453.4" text-anchor="end">1150</text>
<text class="t" x="48.2" y="425.1" text-anchor="end">1200</text>
<text class="t" x="48.2" y="396.9" text-anchor="end">1250</text>
<text class="t" x="48.2" y="368.6" text-anchor="end">1300</text>
<text class="t" x="51" y="603.8" text-anchor="middle">0</text>
<text class="t" x="174.6" y="603.8" text-anchor="middle">500</text>
<text class="t" x="298.1" y="603.8" text-anchor="middle">1000</text>
<text class="t" x="421.7" y="603.8" text-anchor="middle">1500</text>
<text class="t" x="545.2" y="603.8" text-anchor="middle">2000</text>
<text class="t" x="668.8" y="603.8" text-anchor="middle">2500</text>
<text class="b" x="359.5" y="618.6" text-anchor="middle">Sample</text>
<text class="b" transform="translate(11.4 476.1) rotate(-90)" text-anchor="middle">Amplitude</text>
<text class="L" x="357.4" y="660.6" text-anchor="middle"><tspan dy="-1.3">(</tspan><tspan dy="1.3">b</tspan><tspan dy="-1.3">)</tspan></text>
<path d="M52 901.6H667.8M52 856.5H667.8M52 811.3H667.8M52 766.2H667.8" stroke="#9a9a9a" stroke-width="1" stroke-dasharray="1 2.1" fill="none"/>
<path d="M51 901.6h6M668.8 901.6h-6M51 856.5h6M668.8 856.5h-6M51 811.3h6M668.8 811.3h-6M51 766.2h6M668.8 766.2h-6M174.6 946.8v-6M174.6 721v6M298.1 946.8v-6M298.1 721v6M421.7 946.8v-6M421.7 721v6M545.2 946.8v-6M545.2 721v6" stroke="#707070" stroke-width="1.2" fill="none"/>
<g clip-path="url(#cc)" fill="none" stroke-linejoin="round">
<polyline points="50,861 51.8,859.8 52.9,854.5 53.6,839.3 54.7,757.9 55.3,757.9 56.5,838.1 57.6,840.9 58.8,843.9 59.7,847.1 60.6,850.9 61.8,863.9 62.7,883.9 63.5,907.5 64.7,922.8 65.6,926.3 67.1,919.3 68.3,901.6 69.4,880.4 70.6,867.4 71.8,864.5 73,863.3 74.2,862.7 75.9,857.4 77.1,853.3 78.3,849.7 79.4,848.5 80.6,846.8 81.5,845.5 82.4,844.6 83.3,843.9 84.2,842.7 85.4,841.2 86.5,840 87.7,838 88.7,837.5 89.6,836.9 90.6,836.5 91.6,837.1 92.6,837.2 93.6,838 94.8,841.4 96,843.9 97.2,847.3 98.3,850.9 99.5,853.7 100.7,856.8 101.9,858 103,858.5 104.2,859.8 105.4,859.6 106.5,859.3 107.7,858.6 108.9,859 110.1,860.2 111.3,860.3 112.3,861.1 113.2,862.2 114.2,862.7 115.2,863.8 116.2,864.9 117.2,866.2 118.4,866.4 119.5,866.5 120.7,867.4 121.9,867.9 123,869.5 124.2,869.8 126,866.2 127.2,853.3 127.6,839.3 128.2,770.2 128.8,770.2 129.7,841.7 130.6,845.8 131.5,849.7 133.2,856.8 134.4,869.8 135.6,887.4 136.8,911 138,926.3 139.1,929.9 140.9,919.3 142.1,901.6 143.3,883.9 144.4,874.5 145.6,869.8 146.8,868.9 148,868 149.7,860.3 150.9,859 152.1,856.8 153.3,855.5 154.4,854.5 155.6,852.7 156.5,851.9 157.5,851 158.4,851 159.4,849.6 160.3,849.2 161.5,847.7 162.7,845.6 163.9,845.1 165.1,844.4 166.2,846.1 167.4,846.8 168.6,850.5 169.8,853.3 170.9,856.4 172.1,859.2 173.3,860.3 174.5,861.9 175.7,863.9 176.9,864.6 178,865.8 179.2,866.2 180.1,866.5 181.1,867.6 182,867.9 183,868.9 183.9,869.8 184.8,869.8 185.8,870.5 186.7,871.2 187.7,871.3 188.6,872.1 189.8,873.2 191,873.3 192.2,874.5 193.4,874 194.5,873.9 195.7,873.9 196.7,873.6 197.6,873.8 198.6,873.3 199.5,870.8 200.4,868.6 201.1,847.6 201.9,764.4 202.5,764.4 203.5,847.6 204.7,851.8 205.9,855.6 207.7,866.2 208.8,883.9 210,913.4 211.2,933.4 212.4,939.3 213.5,931 214.7,913.4 215.9,891 217.1,879.2 218,877.3 218.9,874.5 220.6,868.6 222.4,858 223.6,852.1 224.8,852.1 225.9,853.3 227.1,853.3 228.3,851.8 229.4,850.4 230.6,848.6 231.8,847.1 233,845.4 234.2,843.9 235.3,840.3 236.5,841.1 237.7,842.7 238.9,845.3 240.1,848.6 241.8,855.6 243.6,861.5 244.6,862 245.5,862.8 246.5,863.9 247.4,865.9 248.3,868.6 249.5,868.7 250.6,869.5 251.8,869.8 253,871 254.2,872 255.4,872.7 256.3,873.3 257.3,872.8 258.2,873.7 259.2,873.3 260.1,873.9 261,873.8 262,874.4 262.9,875.1 263.9,874.9 264.8,875.7 265.7,875.1 266.7,874.9 267.6,874.9 268.6,874.2 269.5,873.9 270.4,871.8 271.3,869.8 272.1,852.3 272.8,774.6 273.4,774.6 274.5,848.7 275.9,850.9 277.2,853.3 277.9,855.6 279.1,869.8 279.9,889.8 280.9,919.3 281.8,931 282.7,938.1 283.8,928.7 285,907.5 286.2,886.3 287.4,876.8 289.1,873.3 290.9,871 292.1,863.9 293.9,860.3 295,857.8 296.2,856.2 297.4,855.1 298.6,853.3 299.8,852.5 300.9,851.1 302.1,849.7 303.3,847.2 304.5,845 305.6,842 306.8,839.1 307.7,837.5 308.6,836.2 310.3,842.7 311.2,847 312.1,850.9 313.3,854 314.5,856.8 315.6,858.4 316.8,860.3 317.9,861.3 318.9,861.7 319.9,861.8 321,862.7 322.2,863.4 323.3,863.7 324.5,863.9 325.7,864.4 326.8,865.2 328,866.2 328.9,866.9 329.9,866.7 330.8,867.6 331.8,868.6 332.7,868.6 333.6,868.8 334.5,869.5 335.4,870.4 336.3,870.4 337.3,870.6 338.4,870.4 339.4,870 340.4,869.8 341.3,867.9 342.2,865.1 342.9,841.7 343.7,767.3 344.3,767.3 345.4,845 346.4,847.1 347.4,849.7 348.5,856.8 349.7,874.5 350.7,901.6 351.5,925.1 352.7,935.8 353.8,934.6 355,919.3 356.2,895.7 357.4,879.2 358.5,873.3 359.4,872.5 360.3,871 361.2,866.8 362.1,862.7 363.9,859.8 365.1,858.2 366.2,856.4 367.4,854.5 368.6,852.7 369.7,851.5 370.9,849.7 371.9,848.2 372.9,847.1 373.9,845 374.9,843.8 375.8,842.2 376.8,840.9 378,841.1 379.2,841.5 380.4,845.4 381.5,848.6 382.7,851.9 383.9,855.6 385,858.1 386.2,860.3 387.2,861.7 388.2,863.2 389.2,863.9 390.2,863 391.1,862.9 392.1,862.1 393.1,860.8 394.1,860.3 395.1,859.2 396.2,862.3 397.4,865.1 398.6,868 399.8,870.4 400.8,871.3 401.7,871.3 402.7,872.1 403.6,872.3 404.5,871.6 405.4,871.5 406.3,871.5 407.5,870.5 408.6,870.4 409.8,869.8 410.7,867 411.6,865.1 411.9,848.6 412.1,758.4 413.3,758.4 414.6,718 415.8,717.8 417,718 417.9,790 418.2,848.6 418.6,878 419.2,885.1 420.4,884.4 421.6,883.3 422.6,884.9 423.7,885.7 424.7,887.4 425.9,889.5 427,890.9 428.2,892.7 429.2,893.8 430.2,895.7 431.2,896.9 432.2,897.7 433.1,898 434.1,898.6 435.1,897.7 436.1,896.8 437.1,895.7 438.1,892.7 439,889.7 440,886.3 441,881.8 442,876.5 443,872.1 444.1,869.9 445.3,868.6 446.4,868.2 447.4,868.4 448.4,868.7 449.5,868.6 450.7,870 451.8,870.5 453,871.5 454,871.8 455.1,872.5 456.1,873.3 457.1,873.3 458.1,873.1 459.1,872.5 460.2,872.7 461.2,872.1 462.3,872.3 463.3,871.7 464.4,871 465.4,870.4 466.5,870.4 467.6,870.9 468.6,871.2 469.6,871.8 470.7,872.7 471.7,870.9 472.6,869.5 473.6,867.4 474.6,866.2 475.6,864.6 476.6,863.3 478.3,867.4 479.2,868.8 480.1,869.2 481.3,865.1 482,841.7 482.8,764.4 483.4,764.4 484.5,844.6 485.9,846 487.2,848 488.9,855.6 490.1,874.5 491.3,898 492.5,912.2 493.6,901.6 494.8,874.5 496,881.6 496.8,888.6 497.9,876.8 498.9,873 499.9,869.5 500.9,866.2 501.9,864.7 502.8,863.5 503.8,861.5 504.8,860.8 505.8,860.7 506.8,859.8 508,858.3 509.1,855.8 510.3,853.9 511.5,853.5 512.7,852.7 513.9,851.5 514.9,849.7 515.8,847.6 516.8,846.2 517.8,845 518.7,844.4 519.7,843.9 520.9,845.3 522.1,846.8 523.3,849 524.5,852.1 525.6,854.9 526.8,858 528,860.3 529.2,862.7 530.4,863.5 531.5,864.9 532.7,865.6 533.9,865.9 535,866 536.2,866.2 537.4,866.7 538.6,867.1 539.8,867.4 541,867.7 542.1,867.9 543.3,868.6 544.5,868.5 545.6,867.7 546.8,868 547.8,868.6 548.9,869.9 550,870.8 551,872.1 552,871.6 552.9,870.2 553.9,869.8 554.8,871.5 555.7,873.3 557.4,866.2 558.7,847.6 559.7,766.4 560.3,766.4 561.4,846.4 562.3,848.4 563.2,849.8 564.2,851.9 565.1,853.3 565.7,866.2 566.3,889.8 567.1,913.4 568.6,934.6 569.8,944 571.3,931 572.8,907.5 574.1,886.3 575.9,874.5 576.8,873.5 577.7,873.3 579.4,867.4 580.3,863.5 581.2,860.3 582.2,857.7 583.1,855.5 584.1,853.3 585,852.8 585.9,851.8 586.8,851.6 587.7,850.9 588.9,850.1 590,849.1 591.2,848 592.4,847.3 593.5,845.6 594.7,845 595.9,845.8 597.1,846.4 598.3,846.8 599.5,849.8 600.6,852.1 601.8,855.3 603,859.2 604.1,860.5 605.3,862.7 606.4,863.8 607.5,864.4 608.6,865.1 609.7,864.5 610.9,864.9 612,864.2 613,865 613.9,865.5 614.9,866.2 615.8,866.6 616.8,867.1 617.7,867.8 618.7,868.3 619.6,869.4 620.6,870.5 621.5,871.2 622.4,871.2 623.4,871.6 624.3,871.9 625.2,872.6 626.2,873.4 627.1,873.3 628.1,873.1 629.2,871.9 630.2,871.8 631.2,871.5 632.4,863.9 632.9,847.6 633.6,772 634.2,772 635.3,845.2 636.3,847.7 637.3,849.4 638.3,852.1 639.5,869.8 640.6,895.7 641.8,922.8 643,938.1 644.2,938.1 645.4,925.1 646.5,898 647.7,878 649.5,866.8 650.6,868 651.8,868.6 653,865.4 654.2,862.7 655.4,860.9 656.5,859.5 657.7,857.4 658.9,856.4 660.1,854.2 661.3,853.3 662.5,852.4 663.6,851.3 664.8,849.7 665.8,848.3 666.7,846.4 667.7,844.4 668.9,842.6 670,841" stroke="#ff0000" stroke-width="2.7"/>
<polygon points="53.6,839.3 54.7,757.9 55.3,757.9 56.5,838.1" fill="#ff0000" stroke="none"/>
<polygon points="127.6,839.3 128.2,770.2 128.8,770.2 129.7,841.7" fill="#ff0000" stroke="none"/>
<polygon points="201.1,847.6 201.9,764.4 202.5,764.4 203.5,847.6" fill="#ff0000" stroke="none"/>
<polygon points="272.1,852.3 272.8,774.6 273.4,774.6 274.5,848.7" fill="#ff0000" stroke="none"/>
<polygon points="342.9,841.7 343.7,767.3 344.3,767.3 345.4,845" fill="#ff0000" stroke="none"/>
<polygon points="482,841.7 482.8,764.4 483.4,764.4 484.5,844.6" fill="#ff0000" stroke="none"/>
<polygon points="558.7,847.6 559.7,766.4 560.3,766.4 561.4,846.4" fill="#ff0000" stroke="none"/>
<polygon points="632.9,847.6 633.6,772 634.2,772 635.3,845.2" fill="#ff0000" stroke="none"/>
<polyline points="50,861 51.8,859.8 52.9,854.5 53.6,839.3 54.7,766.7 55.3,766.7 56.5,838.1 57.6,841.1 58.8,843.9 59.7,847.6 60.6,850.9 61.8,863.9 62.7,883.9 63.5,907.5 64.7,922.8 65.6,926.3 67.1,919.3 68.3,901.6 69.4,880.4 70.6,867.4 71.8,864.5 73,863.3 74.2,862.7 75.9,857.4 77.1,853.8 78.3,849.7 79.4,848.4 80.6,846.8 81.5,845.5 82.4,844.9 83.3,843.9 84.2,842.7 85.4,840.9 86.5,839.8 87.7,838 88.7,837.4 89.6,837 90.6,836.5 91.6,837.1 92.6,837.6 93.6,838 94.8,841.1 96,843.9 97.2,847.3 98.3,850.9 99.5,853.8 100.7,856.8 101.9,857.6 103,858.7 104.2,859.8 105.4,859.4 106.5,858.7 107.7,858.6 108.9,859.1 110.1,859.9 111.3,860.3 112.3,860.9 113.2,861.9 114.2,862.7 115.2,863.6 116.2,865.2 117.2,866.2 118.4,866.4 119.5,866.8 120.7,867.4 121.9,868.3 123,869 124.2,869.8 126,866.2 127.2,853.3 127.6,839.3 128.2,780.5 128.8,780.5 129.7,841.7 130.6,845.8 131.5,849.7 133.2,856.8 134.4,869.8 135.6,887.4 136.8,911 138,926.3 139.1,929.9 140.9,919.3 142.1,901.6 143.3,883.9 144.4,874.5 145.6,869.8 146.8,869 148,868 149.7,860.3 150.9,858.5 152.1,856.8 153.3,855.4 154.4,853.9 155.6,852.7 156.5,851.8 157.5,851.1 158.4,850.4 159.4,849.8 160.3,849.2 161.5,847.6 162.7,845.6 163.9,844.8 165.1,844.4 166.2,845.4 167.4,846.8 168.6,849.9 169.8,853.3 170.9,856 172.1,859.2 173.3,861 174.5,862.6 175.7,863.9 176.9,864.8 178,865.7 179.2,866.2 180.1,866.9 181.1,867.6 182,868.3 183,869.2 183.9,869.8 184.8,870.1 185.8,870.7 186.7,871.1 187.7,871.7 188.6,872.1 189.8,873.1 191,873.8 192.2,874.5 193.4,874.1 194.5,874.2 195.7,873.9 196.7,873.8 197.6,873.5 198.6,873.3 199.5,870.7 200.4,868.6 201.1,847.6 201.9,765.2 202.5,765.2 203.5,847.6 204.7,851.4 205.9,855.6 207.7,866.2 208.8,883.9 210,913.4 211.2,933.4 212.4,939.3 213.5,931 214.7,913.4 215.9,891 217.1,879.2 218,876.9 218.9,874.5 220.6,868.6 222.4,858 223.6,852.1 224.8,852.6 225.9,852.9 227.1,853.3 228.3,851.9 229.4,850.2 230.6,848.6 231.8,847.2 233,845.3 234.2,843.9 235.3,840.3 236.5,841.7 237.7,842.7 238.9,845.8 240.1,848.6 241.8,855.6 243.6,861.5 244.6,862.1 245.5,862.9 246.5,863.9 247.4,866.1 248.3,868.6 249.5,869.2 250.6,869.5 251.8,869.8 253,870.5 254.2,871.9 255.4,872.7 256.3,872.8 257.3,873.4 258.2,873.3 259.2,873.4 260.1,873.9 261,874.2 262,874.6 262.9,874.9 263.9,875.4 264.8,875.7 265.7,875.1 266.7,874.8 267.6,874.3 268.6,874.6 269.5,873.9 270.4,871.8 271.3,869.8 272.1,852.3 272.8,775.2 273.4,775.2 274.5,848.7 275.9,850.9 277.2,853.3 277.9,855.6 279.1,869.8 279.9,889.8 280.9,919.3 281.8,931 282.7,938.1 283.8,928.7 285,907.5 286.2,886.3 287.4,876.8 289.1,873.3 290.9,871 292.1,863.9 293.9,860.3 295,858.1 296.2,856.2 297.4,854.8 298.6,853.3 299.8,851.8 300.9,850.7 302.1,849.7 303.3,847.5 304.5,845 305.6,842.1 306.8,839.1 307.7,837.8 308.6,836.2 310.3,842.7 311.2,847 312.1,850.9 313.3,853.7 314.5,856.8 315.6,858.7 316.8,860.3 317.9,861.1 318.9,861.7 319.9,862.1 321,862.7 322.2,863.3 323.3,863.2 324.5,863.9 325.7,864.5 326.8,865.5 328,866.2 328.9,866.7 329.9,867.2 330.8,867.6 331.8,867.8 332.7,868.6 333.6,868.9 334.5,869.3 335.4,870 336.3,870.4 337.3,870.1 338.4,870.3 339.4,870 340.4,869.8 341.3,867.4 342.2,865.1 342.9,841.7 343.7,768.2 344.3,768.2 345.4,845 346.4,847.4 347.4,849.7 348.5,856.8 349.7,874.5 350.7,901.6 351.5,925.1 352.7,935.8 353.8,934.6 355,919.3 356.2,895.7 357.4,879.2 358.5,873.3 359.4,872.4 360.3,871 361.2,866.7 362.1,862.7 363.9,859.8 365.1,857.8 366.2,856.5 367.4,854.5 368.6,852.8 369.7,851.5 370.9,849.7 371.9,848.1 372.9,846.5 373.9,845 374.9,843.8 375.8,842 376.8,840.9 378,841.4 379.2,841.5 380.4,844.9 381.5,848.6 382.7,852.3 383.9,855.6 385,858.2 386.2,860.3 387.2,861.7 388.2,862.6 389.2,863.9 390.2,863.6 391.1,862.7 392.1,862.1 393.1,861 394.1,860.1 395.1,859.2 396.2,861.9 397.4,865.1 398.6,867.8 399.8,870.4 400.8,870.9 401.7,871.6 402.7,872.1 403.6,872.2 404.5,871.8 405.4,871.4 406.3,871.5 407.5,871 408.6,870.1 409.8,869.8 410.7,867.5 411.6,865.1 411.9,848.6 412.1,758.4 413.3,758.4 414.6,718 415.8,718 417,718 417.9,790 418.2,848.6 418.6,878 419.2,885.1 420.4,884.2 421.6,883.3 422.6,884.8 423.7,885.8 424.7,887.4 425.9,889.1 427,890.8 428.2,892.7 429.2,893.9 430.2,895.3 431.2,896.9 432.2,897.3 433.1,898.2 434.1,898.6 435.1,897.9 436.1,896.7 437.1,895.7 438.1,892.7 439,889.1 440,886.3 441,881.5 442,877 443,872.1 444.1,870.6 445.3,868.6 446.4,868.3 447.4,868.9 448.4,868.9 449.5,868.6 450.7,869.3 451.8,870.5 453,871.5 454,872.2 455.1,872.3 456.1,872.6 457.1,873.3 458.1,873 459.1,872.8 460.2,872.6 461.2,872.1 462.3,871.6 463.3,871.4 464.4,870.9 465.4,871 466.5,870.4 467.6,871.2 468.6,871.8 469.6,871.9 470.7,872.7 471.7,870.7 472.6,869.4 473.6,867.4 474.6,866 475.6,864.9 476.6,863.3 478.3,867.4 479.2,868.4 480.1,869.2 481.3,865.1 482,841.7 482.8,765.2 483.4,765.2 484.5,844.6 485.9,846 487.2,848 488.9,855.6 490.1,874.5 491.3,898 492.5,912.2 493.6,901.6 494.8,874.5 496,881.6 496.8,888.6 497.9,876.8 498.9,873 499.9,869.9 500.9,866.2 501.9,864.5 502.8,863 503.8,861.5 504.8,861 505.8,860.1 506.8,859.8 508,857.6 509.1,855.9 510.3,853.9 511.5,852.8 512.7,852.2 513.9,851.5 514.9,849.7 515.8,847.7 516.8,846.2 517.8,845.2 518.7,844.8 519.7,843.9 520.9,845.5 522.1,846.8 523.3,849.4 524.5,852.1 525.6,855 526.8,858 528,860.6 529.2,862.7 530.4,863.6 531.5,864.4 532.7,865.6 533.9,865.8 535,866 536.2,866.2 537.4,866.6 538.6,866.9 539.8,867.4 541,867.8 542.1,867.9 543.3,868.6 544.5,868.5 545.6,868.4 546.8,868 547.8,869.2 548.9,870.3 550,871.4 551,872.1 552,871.3 552.9,870.5 553.9,869.8 554.8,871.7 555.7,873.3 557.4,866.2 558.7,847.6 559.7,767.2 560.3,767.2 561.4,846.4 562.3,848 563.2,849.8 564.2,851.6 565.1,853.3 565.7,866.2 566.3,889.8 567.1,913.4 568.6,934.6 569.8,944 571.3,931 572.8,907.5 574.1,886.3 575.9,874.5 576.8,873.6 577.7,873.3 579.4,867.4 580.3,864.1 581.2,860.3 582.2,858.2 583.1,855.6 584.1,853.3 585,852.8 585.9,852 586.8,851.5 587.7,850.9 588.9,849.7 590,848.9 591.2,848 592.4,846.8 593.5,845.9 594.7,845 595.9,845.7 597.1,846.4 598.3,846.8 599.5,849.2 600.6,852.1 601.8,855.4 603,859.2 604.1,861 605.3,862.7 606.4,863.8 607.5,864.3 608.6,865.1 609.7,864.8 610.9,864.7 612,864.2 613,864.6 613.9,865.1 614.9,865.9 615.8,866.6 616.8,867.1 617.7,867.7 618.7,868.9 619.6,869.6 620.6,870.6 621.5,871.2 622.4,871.4 623.4,871.6 624.3,872.1 625.2,872.4 626.2,872.8 627.1,873.3 628.1,872.9 629.2,872.3 630.2,872.2 631.2,871.5 632.4,863.9 632.9,847.6 633.6,776.5 634.2,776.5 635.3,845.2 636.3,847.3 637.3,850 638.3,852.1 639.5,869.8 640.6,895.7 641.8,922.8 643,938.1 644.2,938.1 645.4,925.1 646.5,898 647.7,878 649.5,866.8 650.6,867.5 651.8,868.6 653,865.9 654.2,862.7 655.4,860.8 656.5,859.2 657.7,857.4 658.9,855.9 660.1,854.8 661.3,853.3 662.5,852.2 663.6,851 664.8,849.7 665.8,847.9 666.7,846 667.7,844.4 668.9,842.6 670,841" stroke="#0000ff" stroke-width="2.1" stroke-dasharray="4 1.5"/>
</g>
<rect x="51" y="721" width="617.8" height="225.8" fill="none" stroke="#000" stroke-width="1"/>
<text class="t" x="48.2" y="951.4" text-anchor="end">800</text>
<text class="t" x="48.2" y="906.3" text-anchor="end">900</text>
<text class="t" x="48.2" y="861.1" text-anchor="end">1000</text>
<text class="t" x="48.2" y="816" text-anchor="end">1100</text>
<text class="t" x="48.2" y="770.8" text-anchor="end">1200</text>
<text class="t" x="48.2" y="725.6" text-anchor="end">1300</text>
<text class="t" x="51" y="961.3" text-anchor="middle">0</text>
<text class="t" x="174.6" y="961.3" text-anchor="middle">500</text>
<text class="t" x="298.1" y="961.3" text-anchor="middle">1000</text>
<text class="t" x="421.7" y="961.3" text-anchor="middle">1500</text>
<text class="t" x="545.2" y="961.3" text-anchor="middle">2000</text>
<text class="t" x="668.8" y="961.3" text-anchor="middle">2500</text>
<text class="b" x="359.5" y="976.3" text-anchor="middle">Sample</text>
<text class="b" transform="translate(11.4 833) rotate(-90)" text-anchor="middle">Amplitude</text>
<text class="L" x="357.4" y="1013" text-anchor="middle"><tspan dy="-1.3">(</tspan><tspan dy="1.3">c</tspan><tspan dy="-1.3">)</tspan></text>
<line x1="505" y1="20.6" x2="530" y2="20.6" stroke="#ff0000" stroke-width="2"/>
<path d="M507 38.3H511.4M515 38.3H519.4M523 38.3H530" stroke="#0000ff" stroke-width="1.6"/>
<text class="t" x="532" y="26.2">Original ECG signal</text>
<text class="t" x="532" y="43.6">Proposed</text>
</svg></body></html>
